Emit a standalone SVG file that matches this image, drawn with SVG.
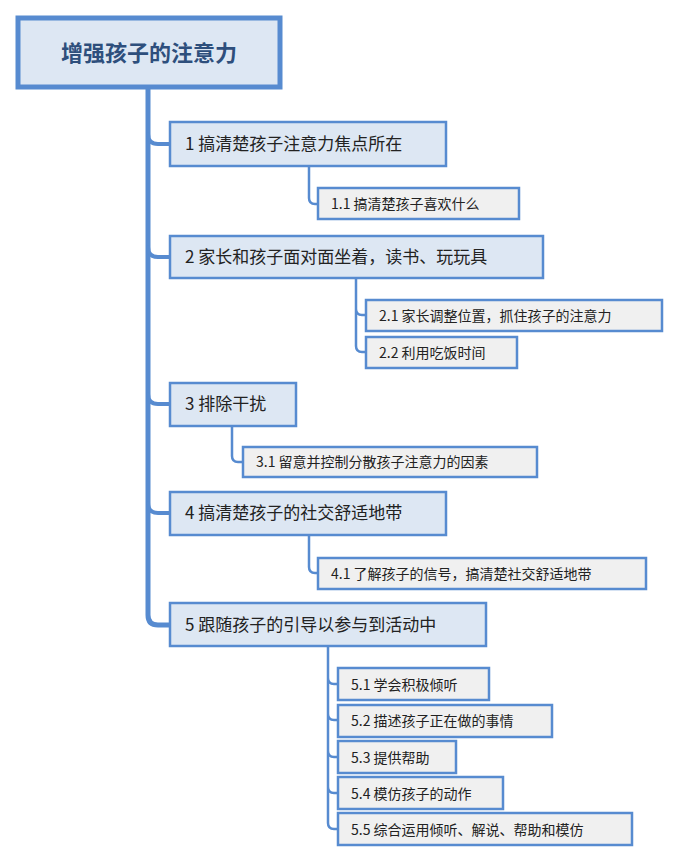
<svg xmlns="http://www.w3.org/2000/svg" width="678" height="861" viewBox="0 0 678 861">
<style>
.root{fill:#dde7f3;stroke:#578bd0;stroke-width:5}
.l1{fill:#dde7f3;stroke:#578bd0;stroke-width:2.5}
.l2{fill:#f0f0f0;stroke:#578bd0;stroke-width:2.5}
.t{font-family:"Noto Sans CJK SC","Noto Sans",sans-serif;fill:#222}
.t1{font-size:17px}
.t2{font-size:14px}
.c{fill:none;stroke:#578bd0;stroke-linecap:round}
</style>
<rect width="678" height="861" fill="#fff"/>
<g id="connectors">
<path class="c" stroke-width="5" d="M148,88 V615 Q148,625 158,625 H170"/>
<path class="c" stroke-width="4" d="M148,134 Q148,144 158,144 H170 M148,247 Q148,257 158,257 H170 M148,394 Q148,404 158,404 H170 M148,503 Q148,513 158,513 H170"/>
<g stroke-width="2.5">
<path class="c" d="M309,166 V198 Q309,204 315,204 H318"/>
<path class="c" d="M356,278 V346 Q356,352 362,352 H366 M356,309 Q356,315 362,315 H366"/>
<path class="c" d="M232,426 V456 Q232,462 238,462 H243"/>
<path class="c" d="M309,535 V567 Q309,573 315,573 H318"/>
<path class="c" d="M328,646 V823 Q328,829 334,829 H338 M328,678 Q328,684 334,684 H338 M328,714 Q328,720 334,720 H338 M328,751 Q328,757 334,757 H338 M328,787 Q328,793 334,793 H338"/>
</g>
</g>
<g id="root"><rect class="root" x="18" y="18" width="262" height="69"/><text class="t" x="149" y="61" text-anchor="middle" font-size="22" font-weight="bold" fill="#2e4f7c" style="fill:#2e4f7c">增强孩子的注意力</text></g>
<g id="n1"><rect class="l1" x="170" y="122" width="276" height="44"/><text class="t t1" x="185" y="150">1 搞清楚孩子注意力焦点所在</text></g>
<g id="n1_1"><rect class="l2" x="318" y="188" width="201" height="31"/><text class="t t2" x="331" y="209">1.1 搞清楚孩子喜欢什么</text></g>
<g id="n2"><rect class="l1" x="170" y="236" width="373" height="42"/><text class="t t1" x="185" y="263">2 家长和孩子面对面坐着，读书、玩玩具</text></g>
<g id="n2_1"><rect class="l2" x="366" y="300" width="296" height="31"/><text class="t t2" x="379" y="321">2.1 家长调整位置，抓住孩子的注意力</text></g>
<g id="n2_2"><rect class="l2" x="366" y="337" width="151" height="31"/><text class="t t2" x="379" y="358">2.2 利用吃饭时间</text></g>
<g id="n3"><rect class="l1" x="170" y="383" width="126" height="43"/><text class="t t1" x="185" y="410">3 排除干扰</text></g>
<g id="n3_1"><rect class="l2" x="243" y="447" width="294" height="30"/><text class="t t2" x="256" y="467">3.1 留意并控制分散孩子注意力的因素</text></g>
<g id="n4"><rect class="l1" x="170" y="492" width="276" height="43"/><text class="t t1" x="185" y="519">4 搞清楚孩子的社交舒适地带</text></g>
<g id="n4_1"><rect class="l2" x="318" y="558" width="328" height="31"/><text class="t t2" x="331" y="579">4.1 了解孩子的信号，搞清楚社交舒适地带</text></g>
<g id="n5"><rect class="l1" x="170" y="603" width="316" height="43"/><text class="t t1" x="185" y="631">5 跟随孩子的引导以参与到活动中</text></g>
<g id="n5_1"><rect class="l2" x="338" y="668" width="151" height="32"/><text class="t t2" x="351" y="690">5.1 学会积极倾听</text></g>
<g id="n5_2"><rect class="l2" x="338" y="705" width="214" height="32"/><text class="t t2" x="351" y="726">5.2 描述孩子正在做的事情</text></g>
<g id="n5_3"><rect class="l2" x="338" y="741" width="118" height="32"/><text class="t t2" x="351" y="763">5.3 提供帮助</text></g>
<g id="n5_4"><rect class="l2" x="338" y="777" width="165" height="32"/><text class="t t2" x="351" y="799">5.4 模仿孩子的动作</text></g>
<g id="n5_5"><rect class="l2" x="338" y="813" width="294" height="32"/><text class="t t2" x="351" y="835">5.5 综合运用倾听、解说、帮助和模仿</text></g>
</svg>
